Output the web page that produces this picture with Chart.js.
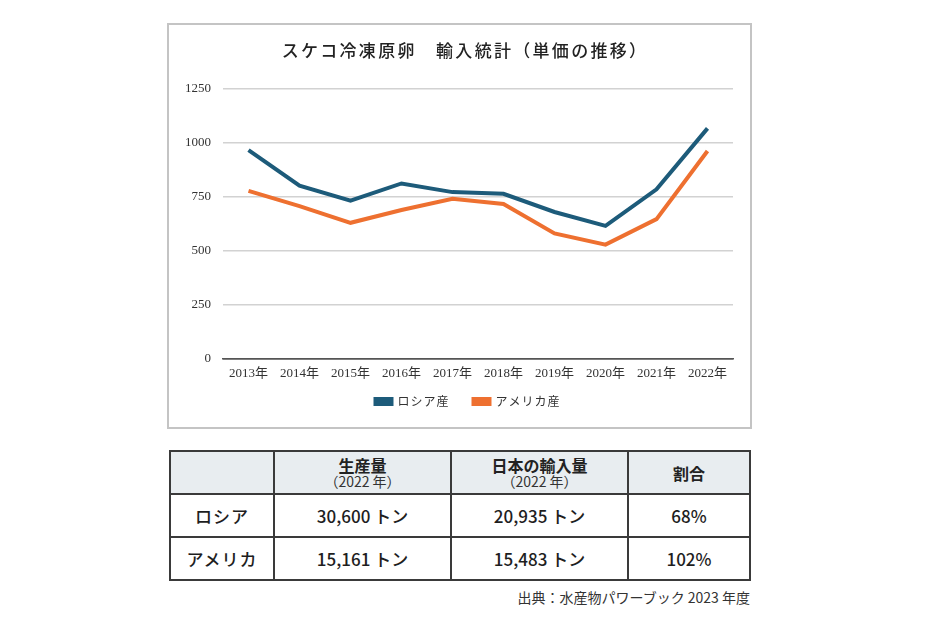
<!DOCTYPE html>
<html><head><meta charset="utf-8">
<script src="https://cdn.jsdelivr.net/npm/chart.js@4"></script>
<style>
html,body{margin:0;padding:0;background:#fff;}
body{width:934px;height:623px;position:relative;overflow:hidden;font-family:'Noto Sans CJK JP','Noto Sans',sans-serif;color:#222;}
#box{position:absolute;left:167px;top:23px;width:581px;height:402px;border:2px solid #c4c4c4;}
#box canvas{display:block;}
#tbl{position:absolute;left:169px;top:450px;border-collapse:collapse;table-layout:fixed;}
#tbl td{border:2px solid #3a3a3a;text-align:center;vertical-align:middle;padding:0;}
#tbl tr.head td{background:#e8edf0;height:41px;}
#tbl tr.body td{height:41px;font-size:17px;font-weight:500;color:#1e1e1e;}
#tbl td.rowname{font-size:16px;font-weight:700;letter-spacing:1px;}
.h1{font-size:16px;font-weight:700;line-height:18px;display:block;}
.h2{font-size:14px;line-height:15px;display:block;color:#333;}
#src{position:absolute;right:184px;top:587px;font-size:14px;color:#333;white-space:nowrap;}
</style>
</head><body>
<div id="box"><canvas id="c" width="581" height="402"></canvas></div>
<table id="tbl"></table>
<div id="src"></div>
<script>
const categories = ['2013年','2014年','2015年','2016年','2017年','2018年','2019年','2020年','2021年','2022年'];
const russia  = [964, 800, 730, 810, 770, 762, 678, 614, 783, 1065];
const america = [776, 705, 628, 687, 739, 715, 579, 527, 645, 960];
const yTicks = [0, 250, 500, 750, 1000, 1250];
const seriesNames = ['ロシア産', 'アメリカ産'];
const chartTitle = 'スケコ冷凍原卵　輸入統計（単価の推移）';

const tableHead = ['', ['生産量', '（2022 年）'], ['日本の輸入量', '（2022 年）'], '割合'];
const tableRowNames = ['ロシア', 'アメリカ'];
const production = ['30,600 トン', '15,161 トン'];
const importVol = ['20,935 トン', '15,483 トン'];
const shares = ['68%', '102%'];
const sourceText = '出典：水産物パワーブック 2023 年度';

// table
const colW = [104, 177, 177, 122];
const tbl = document.getElementById('tbl');
let html = '<colgroup>' + colW.map(w => '<col style="width:' + w + 'px">').join('') + '</colgroup>';
html += '<tr class="head">' + tableHead.map(h => Array.isArray(h)
  ? '<td><span class="h1">' + h[0] + '</span><span class="h2">' + h[1] + '</span></td>'
  : '<td><span class="h1">' + h + '</span></td>').join('') + '</tr>';
tableRowNames.forEach((n, i) => {
  html += '<tr class="body"><td class="rowname">' + n + '</td><td>' + production[i] + '</td><td>' + importVol[i] + '</td><td>' + shares[i] + '</td></tr>';
});
tbl.innerHTML = html;
document.getElementById('src').textContent = sourceText;

// chart
Chart.defaults.font.family = "'Liberation Serif','Noto Sans CJK JP',serif";
Chart.defaults.color = '#333';

const spacingPlugin = {
  id: 'spacing',
  afterInit(chart) {
    const wrap = (box, method, sp, dx, dy) => {
      const orig = box[method].bind(box);
      box[method] = function (...a) {
        const ctx = chart.ctx;
        ctx.save();
        ctx.letterSpacing = sp;
        if (dx || dy) ctx.translate(dx || 0, dy || 0);
        const r = orig(...a);
        ctx.restore();
        return r;
      };
    };
    if (chart.titleBlock) wrap(chart.titleBlock, 'draw', '2.3px', 14, 0);
    if (chart.legend) { wrap(chart.legend, 'fit', '1px'); wrap(chart.legend, 'draw', '1px', 17, -9.5); }
  }
};

new Chart(document.getElementById('c'), {
  type: 'line',
  data: {
    labels: categories,
    datasets: [
      { label: seriesNames[0], data: russia, borderColor: '#1d5b7a', backgroundColor: '#1d5b7a', borderWidth: 4, pointRadius: 0, tension: 0, fill: false },
      { label: seriesNames[1], data: america, borderColor: '#ee7030', backgroundColor: '#ee7030', borderWidth: 4, pointRadius: 0, tension: 0, fill: false }
    ]
  },
  plugins: [spacingPlugin],
  options: {
    responsive: false,
    animation: false,
    layout: { padding: { left: 0, right: 17, top: 0, bottom: 0 } },
    plugins: {
      title: {
        display: true, text: chartTitle, color: '#222',
        font: { family: "'Noto Sans CJK JP',sans-serif", size: 17, weight: '500' },
        padding: { top: 15, bottom: 28 }
      },
      legend: {
        position: 'bottom',
        labels: {
          boxWidth: 16, boxHeight: 5, padding: 24, color: '#333',
          font: { family: "'Noto Sans CJK JP',sans-serif", size: 12 }
        }
      },
      tooltip: { enabled: false }
    },
    scales: {
      x: {
        offset: true,
        grid: { display: false, drawTicks: false },
        border: { display: true, color: '#555', width: 1.5 },
        ticks: { padding: 7, maxRotation: 0, autoSkip: false, font: { size: 13 }, color: '#333' },
        afterFit(s) { s.height = 22.5; }
      },
      y: {
        min: 0, max: 1250,
        grid: { drawTicks: false, lineWidth: 1.5, color: ctx => (ctx.tick && ctx.tick.value === 0) ? '#555' : '#d2d2d2' },
        border: { display: false },
        afterBuildTicks(s) { s.ticks = yTicks.map(v => ({ value: v })); },
        ticks: { padding: 12, font: { size: 13 }, color: '#333', callback: v => String(v) },
        afterFit(s) { s.width = 54; }
      }
    }
  }
});
</script>
</body></html>
